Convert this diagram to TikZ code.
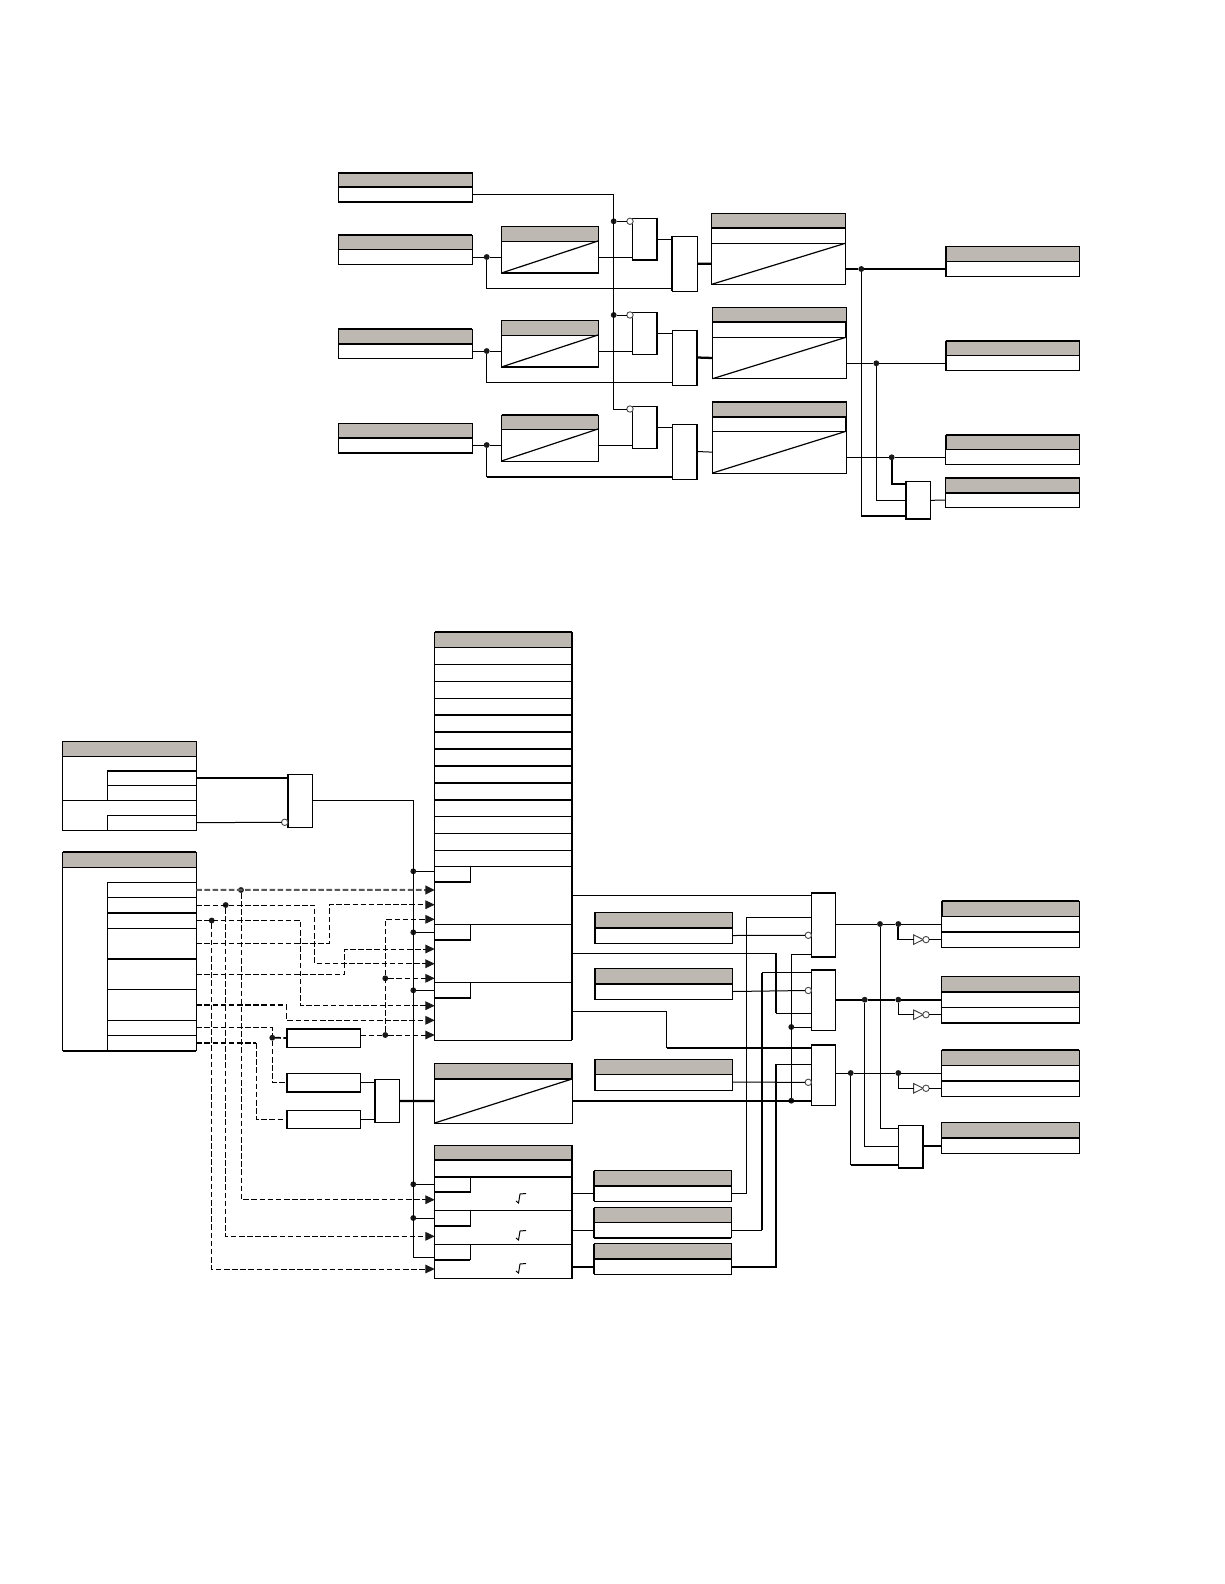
\documentclass[tikz,border=0pt]{standalone}
\usetikzlibrary{arrows.meta}
\definecolor{hdr}{RGB}{190,184,178}
\newcommand\cel[6][]{\node[cellst,#1,minimum width={(#4-#3)*0.75pt},minimum height={(#6-#5)*0.75pt}] (#2) at (#3,#5) {};}
\newcommand\tkN[1]{\draw[tk] (#1.north west)--(#1.north east);}
\newcommand\tkS[1]{\draw[tk] (#1.south west)--(#1.south east);}
\newcommand\tkW[1]{\draw[tk] (#1.north west)--(#1.south west);}
\newcommand\tkE[1]{\draw[tk] (#1.north east)--(#1.south east);}
\newcommand\diag[1]{\draw[thn,line width=.9pt] (#1.south west)--(#1.north east);}
\newcommand\dotn[3]{\node[dotst] (#1) at (#2,#3) {};}
\newcommand\circn[3]{\node[invst] (#1) at (#2,#3) {};}
\newcommand\pnt[3]{\coordinate (#1) at (#2,#3);}
\newcommand\sq[1]{\draw[thn] (516,#1+8)--(518.5,#1+10)--(520,#1+1)--(526,#1+.5);}
\newcommand\invt[2]{\coordinate (#1i) at (913.7,#2);\draw[line width=.7pt,draw=black!75] (913.7,#2-4.7)--(923.3,#2)--(913.7,#2+4.7)--cycle;\node[invst] (#1c) at (926,#2) {};}
\tikzset{
 cellst/.style={draw=black,fill=white,line width=.75pt,inner sep=0pt,outer sep=0pt,anchor=north west},
 hd/.style={fill=hdr},
 tk/.style={line width=1.7pt,line cap=butt},
 thn/.style={line width=.75pt},
 dotst/.style={circle,fill=black!90,draw=none,minimum size=4.4pt,inner sep=0pt,outer sep=0pt},
 invst/.style={circle,fill=white,draw=black!70,line width=.7pt,minimum size=4.8pt,inner sep=0pt,outer sep=0pt},
 dsh/.style={line width=.75pt,dash pattern=on 4.2pt off 1.9pt},
 dshh/.style={line width=1.3pt,dash pattern=on 4.2pt off 1.9pt},
 dshg/.style={line width=1.5pt,draw=black!65,dash pattern=on 4.2pt off 1.9pt},
 tip/.style={-{Triangle[length=7pt,width=6.5pt,color=black!90]}},
}
\begin{document}
\begin{tikzpicture}[x=0.75pt,y=-0.75pt,thn]
\useasboundingbox (0,0) rectangle (1224,1584);
% ---- upper part: blocks
\cel[hd]{Aah}{338}{472}{172.7}{186.7}\cel{Aab}{338}{472}{186.7}{202}
\cel[hd]{Abh}{338}{472}{235}{249}\cel{Abb}{338}{472}{249}{264}
\cel[hd]{Ach}{338}{472}{329}{344}\cel{Acb}{338}{472}{344}{358}
\cel[hd]{Adh}{338}{472}{423.7}{438}\cel{Adb}{338}{472}{438}{453}
\tkN{Aah}\tkS{Aah}\tkS{Aab}\tkN{Abh}\tkN{Ach}\tkS{Ach}\tkS{Adh}\tkS{Adb}
\cel[hd]{Rah}{501.5}{598}{226.7}{241}\cel{Rab}{501.5}{598}{241}{273}
\cel[hd]{Rbh}{501.5}{598}{320.7}{335}\cel{Rbb}{501.5}{598}{335}{367}
\cel[hd]{Rch}{501.5}{598}{415}{429}\cel{Rcb}{501.5}{598}{429}{461}
\diag{Rab}\diag{Rbb}\diag{Rcb}\tkS{Rab}\tkS{Rbb}\tkN{Rch}
\cel{Ga}{632}{657}{218.7}{260}\cel{Gb}{632}{657}{312.7}{354}\cel{Gc}{632}{657}{406.7}{448}
\tkE{Ga}\tkS{Ga}\tkE{Gb}\tkE{Gc}
\cel{Oa}{672}{697}{236.3}{291}\cel{Ob}{672.7}{697}{330}{385}\cel{Oc}{672.7}{697}{424}{479}
\tkW{Oa}\tkE{Ob}\tkE{Oc}
\cel[hd]{Bah}{711.7}{845.3}{213.7}{228.3}\cel{Bam}{711.7}{845.3}{228.3}{243.3}\cel{Bar}{711.7}{845.3}{243.3}{284.3}
\cel[hd]{Bbh}{712.5}{846}{307.7}{322.3}\cel{Bbm}{712.5}{846}{322.3}{337.3}\cel{Bbr}{712.5}{846}{337.3}{378.7}
\cel[hd]{Bch}{712.5}{846}{401.7}{416.7}\cel{Bcm}{712.5}{846}{416.7}{431.3}\cel{Bcr}{712.5}{846}{431.3}{473}
\diag{Bar}\diag{Bbr}\diag{Bcr}\tkS{Bah}\tkE{Bbm}\tkS{Bbh}\tkE{Bcm}\tkS{Bch}\tkN{Bch}
\cel[hd]{Cah}{945.7}{1079.7}{246.7}{261.3}\cel{Cab}{945.7}{1079.7}{261.3}{276.3}
\cel[hd]{Cbh}{945.7}{1079.7}{341}{355.3}\cel{Cbb}{945.7}{1079.7}{355.3}{370.3}
\cel[hd]{Cch}{945.7}{1079.7}{435}{449.7}\cel{Ccb}{945.7}{1079.7}{449.7}{464.3}
\cel[hd]{Cdh}{945.7}{1079.7}{477.7}{493}\cel{Cdb}{945.7}{1079.7}{493}{507}
\tkW{Cah}\tkW{Cab}\tkN{Cbh}\tkW{Cbh}\tkW{Cbb}\tkN{Cch}\tkW{Cch}\tkN{Cdh}\tkS{Cdh}
\cel{Na}{905.7}{930.3}{481.7}{519}\tkW{Na}\tkS{Na}
% upper junctions
\dotn{ja}{613.7}{221.3}\dotn{jb}{613.7}{315}
\circn{ca}{630}{221.3}\circn{cb}{630}{315}\circn{cc}{630}{409}
\dotn{ra}{486.7}{257}\dotn{rb}{486.7}{351}\dotn{rc}{486.7}{445}
\pnt{cvt}{613.7}{409}\pnt{la}{672}{288}\pnt{lb}{672.7}{382}\pnt{lc}{672.7}{476.7}
\dotn{oa}{861.3}{269}\dotn{ob}{876.3}{363.3}\dotn{oc}{891.7}{457.3}
\pnt{aa}{905.7}{484.3}\pnt{ab}{905.7}{500.3}\pnt{ac}{905.7}{515.7}
% upper connectors
\draw (Aab.east) -| (cvt) -- (cc.west);
\draw (ja) -- (ca.west);\draw (jb) -- (cb.west);
\draw (Abb.east |- ra) -- (ra) -- (Rab.west |- ra);\draw (Rab.east |- ra) -- (Ga.west |- ra);\draw (ra) |- (la);
\draw (Acb.east |- rb) -- (rb) -- (Rbb.west |- rb);\draw (Rbb.east |- rb) -- (Gb.west |- rb);\draw (rb) |- (lb);
\draw (Adb.east |- rc) -- (rc) -- (Rcb.west |- rc);\draw (Rcb.east |- rc) -- (Gc.west |- rc);
\draw (rc) -- (rc |- lc);\draw[line width=1.5pt] (rc |- lc) -- (lc);
\draw (Ga.east) -- (Oa.west |- Ga.east);\draw (Gb.east) -- (Ob.west |- Gb.east);\draw (Gc.east) -- (Oc.west |- Gc.east);
\draw[tk] (Oa.east) -- (Bar.west);\draw[tk] (Ob.east) -- (Bbr.west);\draw (Oc.east) -- (Bcr.west);
\draw[tk] (Bar.east |- oa) -- (oa) -- (Cab.west |- oa);
\draw (Bbr.east |- ob) -- (ob) -- (Cbb.west |- ob);
\draw (Bcr.east |- oc) -- (oc) -- (Ccb.west |- oc);
\draw[line width=1.5pt] (oc) |- (aa);\draw (ob) |- (ab);
\draw (oa) -- (oa |- ac);\draw[line width=1.5pt] (oa |- ac) -- (ac);
\draw (Na.east) -- (Cdb.west);
% ---- lower left blocks
\cel[hd]{Dah}{62.7}{196.3}{741.7}{756.3}\cel{Dat}{62.7}{196.3}{756.3}{800.3}\cel{Dau}{62.7}{196.3}{800.3}{830}
\cel{Dac}{107.3}{196.3}{770.7}{785.3}\cel{Dad}{107.3}{196.3}{785.3}{800.3}\cel{Dae}{107.3}{196.3}{815.3}{830}
\tkN{Dac}
\cel[hd]{Dbh}{62.7}{196.3}{852}{867.3}\cel{Dbo}{62.7}{196.3}{867.3}{1050.7}
\cel{Dba}{107.3}{196.3}{882.3}{897.3}\cel{Dbb}{107.3}{196.3}{897.3}{912.7}\cel{Dbc}{107.3}{196.3}{912.7}{928.3}
\cel{Dbd}{107.3}{196.3}{928.3}{959}\cel{Dbe}{107.3}{196.3}{959}{989.3}\cel{Dbf}{107.3}{196.3}{989.3}{1020.3}
\cel{Dbg}{107.3}{196.3}{1020.3}{1035.3}\cel{Dbi}{107.3}{196.3}{1035.3}{1050.7}
\tkN{Dbh}\tkN{Dbc}\tkN{Dbe}\tkS{Dbo}
\cel{Pa}{287.7}{312.3}{774.3}{827.3}\tkW{Pa}
\circn{cp}{284.7}{822.3}
\cel{Fa}{286.7}{360.7}{1028.7}{1047.3}\cel{Fb}{286.7}{360.7}{1073.3}{1092}\cel{Fc}{286.7}{360.7}{1110.3}{1128.3}
\tkN{Fa}\tkW{Fa}\tkW{Fb}\tkS{Fb}\tkW{Fc}
\cel{Qa}{374.7}{399.3}{1079.7}{1122.3}\tkW{Qa}
% ---- centre column
\cel[hd]{Eh}{434.7}{571.7}{632}{647}
\cel{Ea}{434.7}{571.7}{647}{664.3}\cel{Eb}{434.7}{571.7}{664.3}{681.3}\cel{Ec}{434.7}{571.7}{681.3}{698.3}
\cel{Ed}{434.7}{571.7}{698.3}{715.3}\cel{Ee}{434.7}{571.7}{715.3}{732}\cel{Ef}{434.7}{571.7}{732}{749}
\cel{Eg}{434.7}{571.7}{749}{766}\cel{Ei}{434.7}{571.7}{766}{783}\cel{Ej}{434.7}{571.7}{783}{800}
\cel{Ek}{434.7}{571.7}{800}{816.7}\cel{El}{434.7}{571.7}{816.7}{833.3}\cel{Em}{434.7}{571.7}{833.3}{850.3}
\cel{En}{434.7}{571.7}{850.3}{866.7}
\cel{Esa}{434.7}{571.7}{866.7}{924.3}\cel{Esb}{434.7}{571.7}{924.3}{982.3}\cel{Esc}{434.7}{571.7}{982.3}{1040.3}
\cel{Eta}{434.7}{470.7}{866.7}{882.3}\cel{Etb}{434.7}{470.7}{924.3}{940.3}\cel{Etc}{434.7}{470.7}{982.3}{998.3}
\tkN{Eh}\tkS{Ed}\tkS{Ee}\tkS{Ef}\tkS{Eg}\tkS{Ei}\tkS{Ej}\tkS{Eta}\tkS{Etb}\tkS{Etc}
\draw[tk] (Eh.north east)--(Esc.south east);
\cel[hd]{Gh}{434.7}{572}{1063.7}{1079}\cel{Gr}{434.7}{572}{1079}{1123}\diag{Gr}\tkS{Gh}\tkE{Gh}
\cel[hd]{Hh}{434.7}{572}{1145}{1160}\cel{Hm}{434.7}{572}{1160}{1176.7}
\cel{Hsa}{434.7}{572}{1176.7}{1210.7}\cel{Hsb}{434.7}{572}{1210.7}{1244.3}\cel{Hsc}{434.7}{572}{1244.3}{1278.7}
\cel{Hta}{434.7}{470.3}{1176.7}{1192}\cel{Htb}{434.7}{470.3}{1210.7}{1226}\cel{Htc}{434.7}{470.3}{1244.3}{1259.7}
\tkS{Hh}\tkN{Hsa}\tkS{Hta}\tkS{Htb}\tkS{Htc}\draw[tk] (Hh.north east)--(Hsc.south east);
\sq{1193}\sq{1230}\sq{1263}
% ---- right-centre blocks
\cel[hd]{Jah}{594.7}{732.7}{912.7}{927.7}\cel{Jab}{594.7}{732.7}{927.7}{943.3}
\cel[hd]{Jbh}{594.7}{732.7}{968.7}{983.7}\cel{Jbb}{594.7}{732.7}{983.7}{999.3}
\cel[hd]{Jch}{594.7}{732.7}{1059.3}{1074.3}\cel{Jcb}{594.7}{732.7}{1074.3}{1090}
\tkS{Jah}\tkS{Jbh}\tkW{Jah}\tkW{Jab}\tkW{Jbh}\tkW{Jbb}\tkW{Jch}\tkW{Jcb}
\cel[hd]{Iah}{594}{731.3}{1170.7}{1186}\cel{Iab}{594}{731.3}{1186}{1201}
\cel[hd]{Ibh}{594}{731.3}{1207.7}{1222.3}\cel{Ibb}{594}{731.3}{1222.3}{1237.7}
\cel[hd]{Ich}{594}{731.3}{1243.7}{1259}\cel{Icb}{594}{731.3}{1259}{1274.3}
\tkS{Iah}\tkS{Ibb}\tkS{Ich}\tkW{Iah}\tkW{Iab}\tkW{Ibh}\tkW{Ibb}\tkW{Ich}\tkW{Icb}
\cel{Ka}{811.3}{835.7}{892.7}{957}\cel{Kb}{811.3}{835.7}{969.7}{1030.3}\cel{Kc}{811.3}{835.7}{1044.7}{1105.3}
\tkN{Ka}\tkS{Ka}\tkN{Kb}\tkN{Kc}
\cel[hd]{Lah}{941.7}{1079.3}{901}{916.3}\cel{Lam}{941.7}{1079.3}{916.3}{932}\cel{Lan}{941.7}{1079.3}{932}{947.3}
\cel[hd]{Lbh}{941.7}{1079.3}{976.7}{992}\cel{Lbm}{941.7}{1079.3}{992}{1007.3}\cel{Lbn}{941.7}{1079.3}{1007.3}{1023}
\cel[hd]{Lch}{941.7}{1079.3}{1050}{1065.3}\cel{Lcm}{941.7}{1079.3}{1065.3}{1081}\cel{Lcn}{941.7}{1079.3}{1081}{1096.3}
\cel[hd]{Ldh}{941.7}{1079.3}{1122.3}{1137.7}\cel{Ldb}{941.7}{1079.3}{1137.7}{1153.3}
\tkN{Lah}\tkW{Lah}\tkS{Lam}\tkS{Lbh}\tkS{Lbn}\tkN{Lch}\tkS{Lcm}\tkS{Ldh}
\cel{Ra}{898.3}{923.3}{1125.7}{1168}\tkE{Ra}\tkS{Ra}
% ---- lower junctions and points
\dotn{ea}{413.3}{871.3}\dotn{eb}{413.3}{932.3}\dotn{ec}{413.3}{990.3}\dotn{ed}{413.3}{1184.3}\dotn{ee}{413.3}{1218}
\pnt{vb}{413.3}{1257.3}
\pnt{ta}{434.7}{890}\pnt{tb}{434.7}{904.7}\pnt{tc}{434.7}{919.3}\pnt{td}{434.7}{949}\pnt{te}{434.7}{963.7}
\pnt{tf}{434.7}{978.3}\pnt{tg}{434.7}{1005.7}\pnt{th}{434.7}{1020.3}\pnt{ti}{434.7}{1035}
\pnt{tj}{434.7}{1199.7}\pnt{tk2}{434.7}{1236.3}\pnt{tl}{434.7}{1269}
\dotn{xa}{241}{890}\dotn{xb}{225.7}{905}\dotn{xc}{211.7}{920.5}\dotn{xg}{272.3}{1037.7}
\dotn{xi}{385.3}{1035}\dotn{xk}{385.3}{978.3}
\pnt{cb1}{314.7}{963.7}\pnt{cc1}{300.7}{1005.7}\pnt{cd1}{329.3}{904.7}\pnt{ce1}{344.7}{949}\pnt{cf1}{286.7}{1020.3}\pnt{ch1}{256.3}{1119.3}
\dotn{ka}{880}{924}\dotn{kd}{898.3}{924}\dotn{kb}{864.7}{999.7}\dotn{ke}{898.3}{999.7}\dotn{kc}{850.7}{1073}\dotn{kf}{898.3}{1073}
\pnt{raa}{898.3}{1128.3}\pnt{rab}{898.3}{1146.3}\pnt{rac}{898.3}{1165}
\circn{ja1}{808.3}{935.3}\circn{ja2}{808.3}{990.5}\circn{ja3}{808.3}{1082.3}
\pnt{vg}{746.3}{917.3}\pnt{vh}{762}{972.7}\pnt{vi}{776}{1064.3}
\pnt{vj}{776}{953.3}\pnt{vk}{776}{1013.3}\pnt{vl}{666.7}{1048}
\pnt{vm}{791.3}{954.3}\dotn{vn}{791.3}{1027}\dotn{vo}{791.3}{1100.7}
% ---- lower connectors
\draw[line width=1.5pt] (Dac.east) -- (Pa.west |- Dac.east);
\draw (Dae.east) -- (cp.west);
\draw (Pa.east) -| (vb) -- (Hsc.west |- vb);
\draw (ea) -- (Eta.west |- ea);\draw (eb) -- (Etb.west |- eb);\draw (ec) -- (Etc.west |- ec);
\draw (ed) -- (Hta.west |- ed);\draw (ee) -- (Htb.west |- ee);
\draw[dshg,tip] (Dba.east) -- (ta);
\draw[dsh,tip] (xa) |- (tj);
\draw[dsh,tip] (xb) |- (tk2);
\draw[dsh,tip] (xc) |- (tl);
\draw[dsh,tip] (Dbb.east) -| (cb1) -- (te);
\draw[dsh,tip] (Dbc.east) -| (cc1) -- (tg);
\draw[dsh,tip] (Dbd.east) -| (cd1) -- (tb);
\draw[dsh,tip] (Dbe.east) -| (ce1) -- (td);
\draw[dshh] (Dbf.east) -- (Dbf.east -| cf1);
\draw[dsh,tip] (Dbf.east -| cf1) -- (cf1) -- (th);
\draw[dsh] (Dbg.east) -| (xg);
\draw[dshh] (xg) -- (Fa.west);
\draw[dsh] (xg) |- (Fb.west);
\draw[dshh] (Dbi.east) -- (Dbi.east -| ch1);
\draw[dsh] (Dbi.east -| ch1) -- (ch1) -- (Fc.west);
\draw[dsh,tip] (Fa.east |- ti) -- (xi) -- (ti);
\draw[dsh,tip] (xi) |- (tc);
\draw[dsh,tip] (xk) -- (tf);
\draw (Fb.east) -- (Qa.west |- Fb.east);\draw (Fc.east) -- (Qa.west |- Fc.east);
\draw[tk] (Qa.east) -- (Gr.west);
\draw[tk] (Gr.east) -- (Kc.west |- Gr.east);
\draw (Esa.east) -- (Ka.west |- Esa.east);
\draw (Esb.east) -- (vj);\draw[tk] (vj) -- (vk);\draw (vk) -- (Kb.west |- vk);
\draw (Esc.east) -| (vl);\draw[tk] (vl) -- (Kc.west |- vl);
\draw (Hsa.east |- Iab.west) -- (Iab.west);\draw (Hsb.east |- Ibb.west) -- (Ibb.west);\draw[tk] (Hsc.east |- Icb.west) -- (Icb.west);
\draw (Iab.east) -| (vg) -- (Ka.west |- vg);
\draw (Ibb.east) -- (Ibb.east -| vh);\draw[tk] (Ibb.east -| vh) -- (vh);\draw (vh) -- (Kb.west |- vh);
\draw[tk] (Icb.east) -| (vi);\draw (vi) -- (Kc.west |- vi);
\draw (Jab.east) -- (ja1.west);\draw (Jbb.east) -- (ja2.west);\draw (Jcb.east) -- (ja3.west);
\draw (Ka.west |- vm) -- (vm) -- (vo);\draw (vn) -- (Kb.west |- vn);
\draw (Ka.east |- ka) -- (ka) -- (kd) -- (Lam.west |- kd);
\draw[tk] (Kb.east |- kb) -- (kb) -- (ke) -- (Lbm.west |- ke);
\draw (Kc.east |- kc) -- (kc) -- (kf) -- (Lcm.west |- kf);
\invt{ia}{939.6}\invt{ib}{1014.7}\invt{ic}{1088.3}
\draw[line width=1.3pt] (kd) |- (iai);\draw[line width=1.3pt] (iac.east) -- (Lan.west |- iac);
\draw (ke) |- (ibi);\draw (ibc.east) -- (Lbn.west |- ibc);
\draw (kf) |- (ici);\draw (icc.east) -- (Lcn.west |- icc);
\draw (ka) |- (raa);\draw (kb) |- (rab);
\draw (kc) -- (kc |- rac);\draw[line width=1.5pt] (kc |- rac) -- (rac);
\draw[line width=1.5pt] (Ra.east |- Ldb.west) -- (Ldb.west);
\end{tikzpicture}
\end{document}
